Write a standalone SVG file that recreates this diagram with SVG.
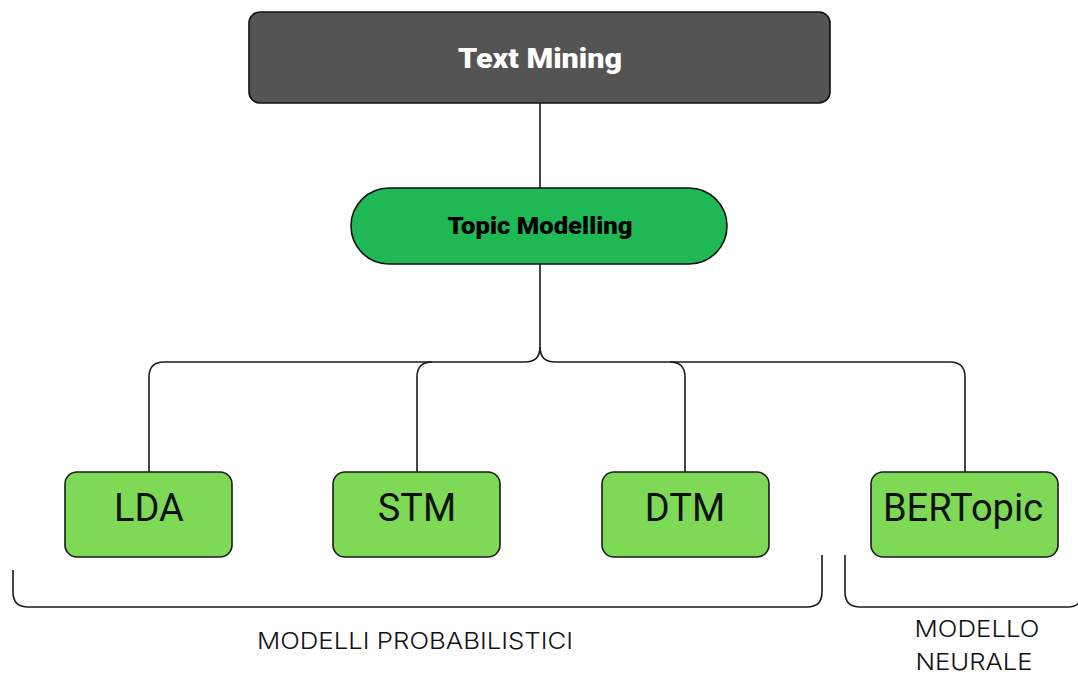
<svg xmlns="http://www.w3.org/2000/svg" width="1078" height="675" viewBox="0 0 1078 675">
<style>
.ln{fill:none;stroke:#1a1a1a;stroke-width:1.6}
.box{fill:#7ed957;stroke:#1a1a1a;stroke-width:1.6}
.lbl{font-family:Roboto,"Liberation Sans",sans-serif;font-size:38px;fill:#111;text-anchor:middle}
.cap{font-family:Inter,Roboto,"Liberation Sans",sans-serif;font-size:23px;font-weight:300;fill:#111;text-anchor:middle}
</style>
<rect width="1078" height="675" fill="#fff"/>
<g id="connectors">
<path class="ln" d="M540 103 V188"/>
<path class="ln" d="M540 264 V347 Q540 362 525 362 H164 Q149 362 149 377 V472"/>
<path class="ln" d="M540 347 Q540 362 555 362 H950 Q965 362 965 377 V472"/>
<path class="ln" d="M432 362 Q417 362 417 377 V472"/>
<path class="ln" d="M670 362 Q685 362 685 377 V472"/>
</g>
<g id="text-mining">
<rect x="249" y="12" width="581" height="91" rx="11" fill="#545454" stroke="#111" stroke-width="1.6"/>
<text x="540" y="68" font-family="Roboto,'Liberation Sans',sans-serif" font-size="27" font-weight="900" fill="#fff" text-anchor="middle" textLength="164" lengthAdjust="spacingAndGlyphs">Text Mining</text>
</g>
<g id="topic-modelling">
<rect x="351" y="188" width="376" height="76" rx="38" fill="#1fb855" stroke="#111" stroke-width="1.6"/>
<text x="540" y="234" font-family="Roboto,'Liberation Sans',sans-serif" font-size="23" font-weight="900" fill="#000" text-anchor="middle" textLength="185" lengthAdjust="spacingAndGlyphs">Topic Modelling</text>
</g>
<g id="lda"><rect class="box" x="65" y="472" width="167" height="85" rx="12"/><text class="lbl" x="149" y="521">LDA</text></g>
<g id="stm"><rect class="box" x="333" y="472" width="167" height="85" rx="12"/><text class="lbl" x="417" y="521">STM</text></g>
<g id="dtm"><rect class="box" x="602" y="472" width="167" height="85" rx="12"/><text class="lbl" x="685" y="521">DTM</text></g>
<g id="bertopic"><rect class="box" x="871" y="472" width="187" height="85" rx="12"/><text class="lbl" x="963" y="521">BERTopic</text></g>
<g id="brackets">
<path class="ln" d="M13 570 V592 Q13 607 28 607 H807 Q822 607 822 592 V555"/>
<path class="ln" d="M845 555 V592 Q845 607 860 607 H1068 Q1078 607 1080 600"/>
</g>
<g id="labels">
<text class="cap" x="415" y="649" textLength="316" lengthAdjust="spacingAndGlyphs">MODELLI PROBABILISTICI</text>
<text class="cap" x="977" y="637" textLength="125" lengthAdjust="spacingAndGlyphs">MODELLO</text>
<text class="cap" x="974" y="670" textLength="117" lengthAdjust="spacingAndGlyphs">NEURALE</text>
</g>
</svg>
